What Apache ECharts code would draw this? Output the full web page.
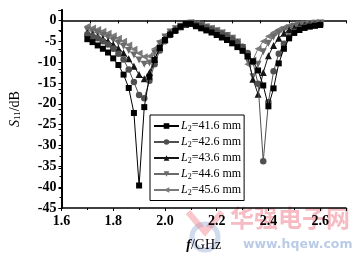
<!DOCTYPE html>
<html><head><meta charset="utf-8">
<script src="https://cdn.jsdelivr.net/npm/echarts@6/dist/echarts.min.js"></script>
<style>html,body{margin:0;padding:0;background:#fff}#c{width:358px;height:257px}</style>
</head><body><div id="c"></div>
<script>
const freq = [1.70,1.72,1.74,1.76,1.78,1.80,1.82,1.84,1.86,1.88,1.90,1.92,1.94,1.96,1.98,2.00,2.02,2.04,2.06,2.08,2.10,2.12,2.14,2.16,2.18,2.20,2.22,2.24,2.26,2.28,2.30,2.32,2.34,2.36,2.38,2.40,2.42,2.44,2.46,2.48,2.50,2.52,2.54,2.56,2.58,2.60];
const s416 = [-4.5,-5.2,-6.0,-6.8,-7.7,-9.1,-10.7,-13.0,-16.2,-22.2,-39.6,-20.8,-13.5,-9.5,-6.6,-4.7,-3.4,-2.5,-1.5,-0.8,-0.8,-1.4,-1.9,-2.4,-2.9,-3.5,-4.1,-4.7,-5.5,-6.4,-7.3,-8.6,-9.8,-12.0,-15.6,-20.6,-16.3,-10.3,-6.8,-4.3,-3.0,-2.3,-1.8,-1.5,-1.3,-1.1];
const s426 = [-3.3,-3.8,-4.3,-5.0,-5.8,-6.8,-8.0,-9.4,-11.8,-14.8,-17.9,-18.7,-14.5,-10.5,-7.2,-5.0,-3.5,-2.4,-1.6,-1.0,-0.7,-1.0,-1.4,-1.8,-2.3,-2.8,-3.3,-3.9,-4.6,-5.4,-6.3,-7.8,-10.0,-15.2,-33.8,-19.6,-12.2,-8.0,-5.6,-3.9,-2.7,-2.0,-1.5,-1.2,-1.0,-0.9];
const s436 = [-3.0,-3.4,-3.9,-4.4,-5.0,-5.8,-6.7,-7.8,-9.2,-11.0,-13.0,-14.0,-12.5,-9.2,-6.5,-4.5,-3.1,-2.2,-1.5,-1.0,-0.7,-1.0,-1.4,-1.8,-2.2,-2.7,-3.2,-3.8,-4.5,-5.3,-6.4,-8.5,-14.1,-17.7,-12.5,-8.5,-6.0,-4.3,-3.1,-2.3,-1.8,-1.4,-1.1,-0.9,-0.8,-0.7];
const s446 = [-2.3,-2.7,-3.1,-3.6,-4.1,-4.7,-5.4,-6.2,-7.2,-8.3,-9.5,-10.5,-10.2,-7.8,-5.6,-4.0,-2.8,-2.0,-1.4,-0.9,-0.6,-0.9,-1.2,-1.6,-2.0,-2.5,-3.0,-3.6,-4.3,-5.2,-6.5,-9.5,-13.5,-10.5,-7.5,-5.5,-4.0,-3.0,-2.3,-1.8,-1.4,-1.1,-0.9,-0.8,-0.7,-0.6];
const s456 = [-1.4,-1.8,-2.2,-2.6,-3.1,-3.7,-4.3,-5.0,-5.9,-6.9,-7.9,-8.7,-8.6,-6.8,-5.0,-3.6,-2.6,-1.9,-1.3,-0.8,-0.5,-0.8,-1.1,-1.5,-1.9,-2.4,-2.9,-3.5,-4.2,-5.2,-6.9,-10.5,-9.5,-6.8,-5.0,-3.8,-2.9,-2.2,-1.7,-1.3,-1.0,-0.8,-0.7,-0.6,-0.5,-0.5];
const names = ['41.6','42.6','43.6','44.6','45.6'];
const yTicks = [0,-5,-10,-15,-20,-25,-30,-35,-40,-45];
const xTicks = [1.6,1.8,2.0,2.2,2.4,2.6];

const serif = '"Liberation Serif","DejaVu Serif",serif';
const allS = [s416,s426,s436,s446,s456];
const colors = ['#000000','#505050','#151515','#6a6a6a','#7a7a7a'];
const symbols = ['rect','circle','triangle','triangle','triangle'];
const rots = [0,0,0,180,90];
const sizes = [6,6.5,7,7,7];

const chart = echarts.init(document.getElementById('c'));
chart.setOption({
  animation:false,
  backgroundColor:'#fff',
  grid:{left:52,right:12,top:10,bottom:46},
  xAxis:[{
    type:'value',min:1.6,max:2.7,interval:0.2,
    name:'{i|f}/GHz',nameLocation:'middle',nameGap:30,
    nameTextStyle:{fontFamily:serif,fontSize:14,color:'#000',rich:{i:{fontFamily:serif,fontSize:14,fontStyle:'italic',fontWeight:'bold',color:'#000'}}},
    axisLine:{show:true,onZero:false,lineStyle:{color:'#000',width:1.5}},
    axisTick:{show:true,inside:false,length:3,lineStyle:{color:'#000'}},
    minorTick:{show:true,splitNumber:2,length:2,lineStyle:{color:'#000'}},
    splitLine:{show:false},
    axisLabel:{fontFamily:serif,fontSize:14,fontWeight:'bold',color:'#000',margin:6,showMaxLabel:false,
      formatter:v=>xTicks.some(t=>Math.abs(t-v)<1e-6)?v.toFixed(1):''}
  },{
    type:'value',min:0,max:10,interval:1,position:'top',
    axisLine:{show:true,lineStyle:{color:'#000',width:1.5}},
    axisTick:{show:true,inside:true,length:3,lineStyle:{color:'#000'}},
    axisLabel:{show:false},splitLine:{show:false}
  }],
  yAxis:[{
    type:'value',min:-45,max:2.5,interval:5,
    name:'{i|S}{s|11}/dB',nameLocation:'middle',nameGap:39,nameRotate:90,
    nameTextStyle:{fontFamily:serif,fontSize:14,color:'#000',
      rich:{i:{fontFamily:serif,fontSize:14,fontStyle:'italic',color:'#000'},
            s:{fontFamily:serif,fontSize:9,color:'#000',padding:[6,0,0,0]}}},
    axisLine:{show:true,onZero:false,lineStyle:{color:'#000',width:1.5}},
    axisTick:{show:true,inside:false,length:3,lineStyle:{color:'#000'}},
    minorTick:{show:true,splitNumber:2,length:2,lineStyle:{color:'#000'}},
    splitLine:{show:false},
    axisLabel:{fontFamily:serif,fontSize:14,fontWeight:'bold',color:'#000',margin:5,showMaxLabel:false,
      formatter:v=>yTicks.includes(v)?String(v):''}
  },{
    type:'value',min:0,max:10,interval:1,position:'right',
    axisLine:{show:true,lineStyle:{color:'#000',width:2}},
    axisTick:{show:true,inside:true,length:3,lineStyle:{color:'#000'}},
    axisLabel:{show:false},splitLine:{show:false}
  }],
  legend:{
    orient:'vertical',left:150,top:115,
    backgroundColor:'#fff',borderColor:'#000',borderWidth:1,
    padding:[5,3,4,3],itemGap:3.5,itemWidth:25,itemHeight:7,
    textStyle:{fontFamily:serif,fontSize:12,color:'#000',padding:[0,0,0,-3],
      rich:{i:{fontFamily:serif,fontSize:12,fontStyle:'italic',color:'#000'},
            s:{fontFamily:serif,fontSize:8,color:'#000',padding:[5,0,0,0]},
            t:{fontFamily:serif,fontSize:12,color:'#000'}}},
    formatter:n=>'{i|L}{s|2}{t|='+n.replace('L2=','')+' mm}',
    data:names.map(n=>'L2='+n)
  },
  graphic:[
    {type:'circle',z:-1,shape:{cx:205,cy:237,r:13},style:{fill:'none',stroke:'rgba(150,175,215,0.45)',lineWidth:5}},
    {type:'polyline',z:-1,shape:{points:[[188,212],[205,232],[222,212]]},style:{fill:'none',stroke:'rgba(240,130,140,0.45)',lineWidth:6}},
    {type:'text',z:-1,left:230,top:206,style:{text:'华强电子网',font:'bold 24px "Noto Sans CJK SC"',fill:'rgba(240,120,135,0.5)'}},
    {type:'text',z:-1,left:243,top:238,style:{text:'www.hqew.com',font:'bold 12.5px "DejaVu Sans"',fill:'rgba(130,160,210,0.55)'}}
  ],
  series: allS.map((arr,k)=>({
    name:'L2='+names[k],type:'line',xAxisIndex:0,yAxisIndex:0,
    data:freq.map((f,i)=>[f,arr[i]]),
    symbol:symbols[k],symbolRotate:rots[k],symbolSize:sizes[k],showAllSymbol:true,
    itemStyle:{color:colors[k]},
    lineStyle:{color:colors[k],width:1},
    z:10-k
  }))
});
</script></body></html>
